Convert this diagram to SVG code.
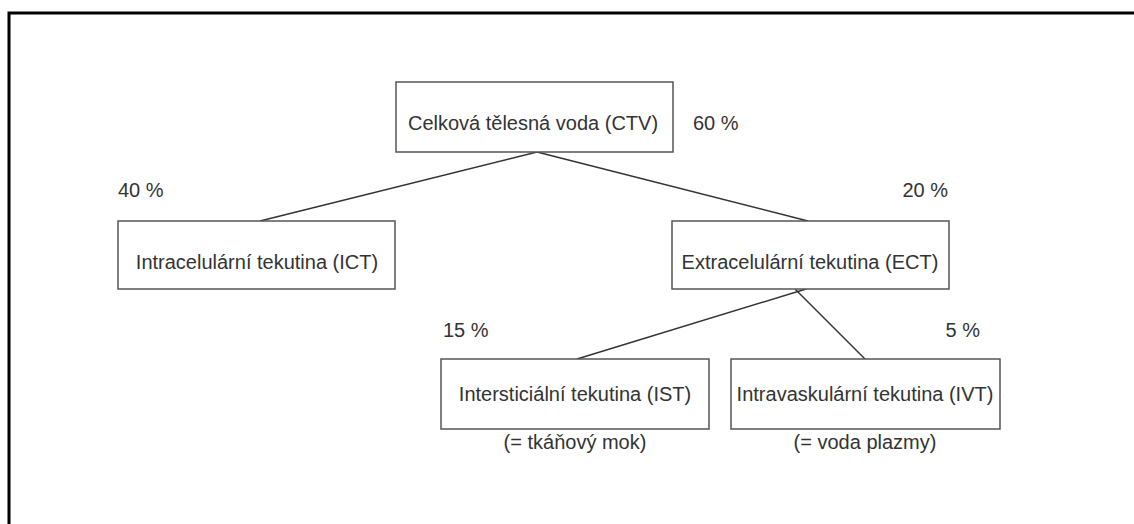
<svg xmlns="http://www.w3.org/2000/svg" width="1134" height="524" viewBox="0 0 1134 524">
<style>
.box{fill:#fff;stroke:#555;stroke-width:1.5}
.t{font-family:"Liberation Sans",Arial,sans-serif;font-size:20px;fill:#333}
.m{text-anchor:middle}
.e{text-anchor:end}
.ln{stroke:#333;stroke-width:1.5;fill:none}
</style>
<rect width="1134" height="524" fill="#fff"/>
<path d="M9,524 V13 H1134" fill="none" stroke="#000" stroke-width="3"/>
<g id="connectors">
<line class="ln" x1="537" y1="152" x2="260" y2="221"/>
<line class="ln" x1="537" y1="152" x2="808" y2="221"/>
<line class="ln" x1="806" y1="289" x2="577" y2="359"/>
<line class="ln" x1="795" y1="289" x2="865" y2="359"/>
</g>
<g id="ctv">
<rect class="box" x="396" y="82" width="277" height="70"/>
<text class="t m" x="533" y="130">Celková tělesná voda (CTV)</text>
<text class="t" x="693" y="130">60 %</text>
</g>
<g id="ict">
<rect class="box" x="118" y="221" width="277" height="68"/>
<text class="t m" x="257" y="269">Intracelulární tekutina (ICT)</text>
<text class="t" x="118" y="197">40 %</text>
</g>
<g id="ect">
<rect class="box" x="672" y="221" width="277" height="68"/>
<text class="t m" x="810" y="269">Extracelulární tekutina (ECT)</text>
<text class="t e" x="948" y="197">20 %</text>
</g>
<g id="ist">
<rect class="box" x="441" y="359" width="268" height="70"/>
<text class="t m" x="575" y="401">Intersticiální tekutina (IST)</text>
<text class="t" x="443" y="337">15 %</text>
<text class="t m" x="575" y="449">(= tkáňový mok)</text>
</g>
<g id="ivt">
<rect class="box" x="731" y="359" width="269" height="70"/>
<text class="t m" x="865" y="401">Intravaskulární tekutina (IVT)</text>
<text class="t e" x="980" y="337">5 %</text>
<text class="t m" x="865" y="449">(= voda plazmy)</text>
</g>
</svg>
